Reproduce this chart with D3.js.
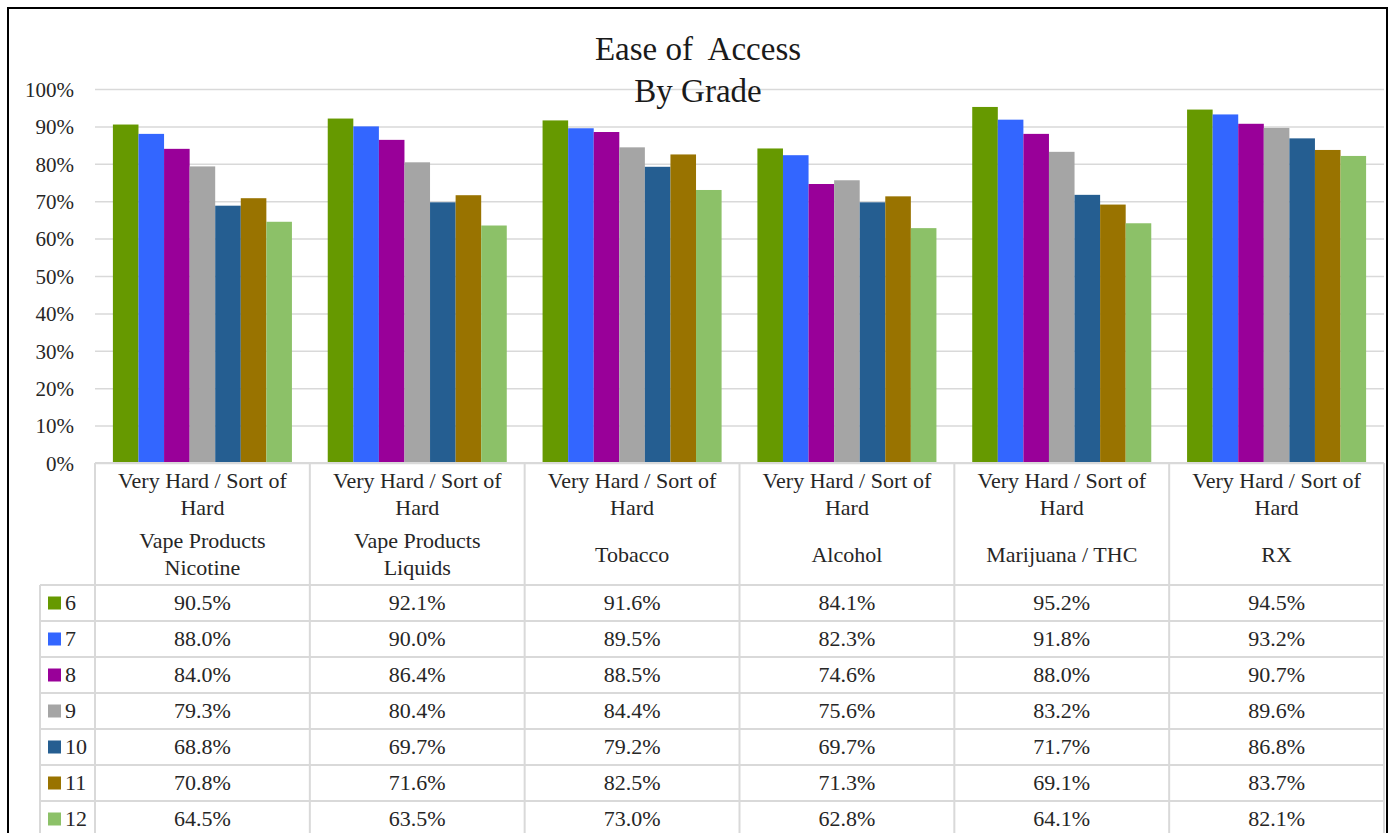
<!DOCTYPE html>
<html><head><meta charset="utf-8">
<script src="https://cdn.jsdelivr.net/npm/d3@7"></script>
<style>
html,body{margin:0;padding:0;background:#fff;}
svg{display:block;}
svg text{font-family:"Liberation Serif","Times New Roman",Times,"DejaVu Serif",serif !important;}
</style></head>
<body>
<svg id="chart" width="1396" height="833"></svg>
<script>
const categories = ["Vape Products Nicotine","Vape Products Liquids","Tobacco","Alcohol","Marijuana / THC","RX"];
const categoryLines = [["Vape Products","Nicotine"],["Vape Products","Liquids"],["Tobacco"],["Alcohol"],["Marijuana / THC"],["RX"]];
const responseLines = ["Very Hard / Sort of","Hard"];
const grades = ["6","7","8","9","10","11","12"];
const colors = ["#669900","#3366FF","#990099","#A5A5A5","#255E91","#997300","#8CC168"];
const grade6  = [90.5,92.1,91.6,84.1,95.2,94.5];
const grade7  = [88.0,90.0,89.5,82.3,91.8,93.2];
const grade8  = [84.0,86.4,88.5,74.6,88.0,90.7];
const grade9  = [79.3,80.4,84.4,75.6,83.2,89.6];
const grade10 = [68.8,69.7,79.2,69.7,71.7,86.8];
const grade11 = [70.8,71.6,82.5,71.3,69.1,83.7];
const grade12 = [64.5,63.5,73.0,62.8,64.1,82.1];
const yTicks = [0,10,20,30,40,50,60,70,80,90,100];
const titleLines = ["Ease of  Access","By Grade"];

const series = [grade6,grade7,grade8,grade9,grade10,grade11,grade12];

const svg = d3.select("#chart");
const L = 95, R = 1384, T = 89, B = 463;
const grid = "#d9d9d9";
const txt = "#262626";

// outer border
svg.append("rect").attr("x",8).attr("y",8).attr("width",1379).attr("height",840)
  .attr("fill","none").attr("stroke","#000").attr("stroke-width",2);

const x0 = d3.scaleBand().domain(categories).range([L,R]).padding(0);
const x1 = d3.scaleBand().domain(grades).range([0,x0.bandwidth()]).paddingInner(0).paddingOuter(0.7);
const y = d3.scaleLinear().domain([0,100]).range([B,T]);

// gridlines
const gridAxis = d3.axisLeft(y).tickValues(yTicks).tickSize(-(R-L)).tickFormat("");
const gg = svg.append("g").attr("transform",`translate(${L},0)`).call(gridAxis);
gg.select(".domain").remove();
gg.selectAll("line").attr("stroke",grid).attr("stroke-width",1.5);

// y labels
const yAxis = d3.axisLeft(y).tickValues(yTicks).tickSize(0).tickPadding(0).tickFormat(d=>d+"%");
const ya = svg.append("g").attr("transform",`translate(74,0)`).call(yAxis);
ya.attr("font-family",null).attr("font-size",null);
ya.select(".domain").remove();
ya.selectAll("text").attr("font-size",21).attr("fill",txt).attr("dy","0.35em");

// bars
const groups = svg.append("g").selectAll("g").data(categories).join("g")
  .attr("transform",d=>`translate(${x0(d)},0)`);
groups.selectAll("rect").data((c,ci)=>grades.map((g,gi)=>({g,gi,v:series[gi][ci]}))).join("rect")
  .attr("x",d=>x1(d.g)).attr("width",x1.bandwidth())
  .attr("y",d=>y(d.v)).attr("height",d=>B-y(d.v))
  .attr("fill",d=>colors[d.gi]);

// title
svg.append("g").selectAll("text").data(titleLines).join("text")
  .attr("x",698).attr("y",(d,i)=>60+i*42).attr("text-anchor","middle")
  .attr("font-size",33).attr("fill","#1a1a1a").style("white-space","pre").text(d=>d);

// data table
const headBottom = 585, rowH = 36, legendL = 40;
const tg = svg.append("g");
const lineStyle = s => s.attr("stroke",grid).attr("stroke-width",2);
tg.selectAll(".vh").data(d3.range(categories.length+1)).join("line")
  .attr("x1",i=>L+i*x0.step()).attr("x2",i=>L+i*x0.step())
  .attr("y1",B).attr("y2",headBottom+rowH*grades.length).call(lineStyle);
tg.append("line").attr("x1",L).attr("x2",R).attr("y1",B).attr("y2",B).call(lineStyle);
tg.append("line").attr("x1",legendL).attr("x2",legendL).attr("y1",headBottom).attr("y2",headBottom+rowH*grades.length).call(lineStyle);
tg.selectAll(".hr").data(d3.range(grades.length+1)).join("line")
  .attr("x1",legendL).attr("x2",R)
  .attr("y1",i=>headBottom+i*rowH).attr("y2",i=>headBottom+i*rowH).call(lineStyle);

// header texts
const hdr = tg.selectAll(".hdr").data(categories).join("g").attr("transform",d=>`translate(${x0(d)+x0.bandwidth()/2},0)`);
hdr.selectAll(".r1").data(responseLines).join("text")
  .attr("y",(d,i)=>488+i*27).attr("text-anchor","middle").attr("font-size",22).attr("fill",txt).text(d=>d);
hdr.selectAll(".r2").data((d,i)=>categoryLines[i].map((t,j,a)=>({t,j,n:a.length}))).join("text")
  .attr("y",d=>d.n===1?562:548+d.j*27).attr("text-anchor","middle").attr("font-size",22).attr("fill",txt).text(d=>d.t);

// rows
const rows = tg.selectAll(".row").data(grades).join("g")
  .attr("transform",(d,i)=>`translate(0,${headBottom+i*rowH})`);
rows.append("rect").attr("x",48).attr("y",rowH/2-6.5).attr("width",13).attr("height",13).attr("fill",(d,i)=>colors[i]);
rows.append("text").attr("x",65).attr("y",rowH/2+7).attr("font-size",22).attr("fill",txt).text(d=>d);
rows.selectAll(".v").data((g,gi)=>categories.map((c,ci)=>({c,v:series[gi][ci]}))).join("text")
  .attr("x",d=>x0(d.c)+x0.bandwidth()/2).attr("y",rowH/2+7).attr("text-anchor","middle")
  .attr("font-size",22).attr("fill",txt).text(d=>d.v.toFixed(1)+"%");
</script>
</body></html>
